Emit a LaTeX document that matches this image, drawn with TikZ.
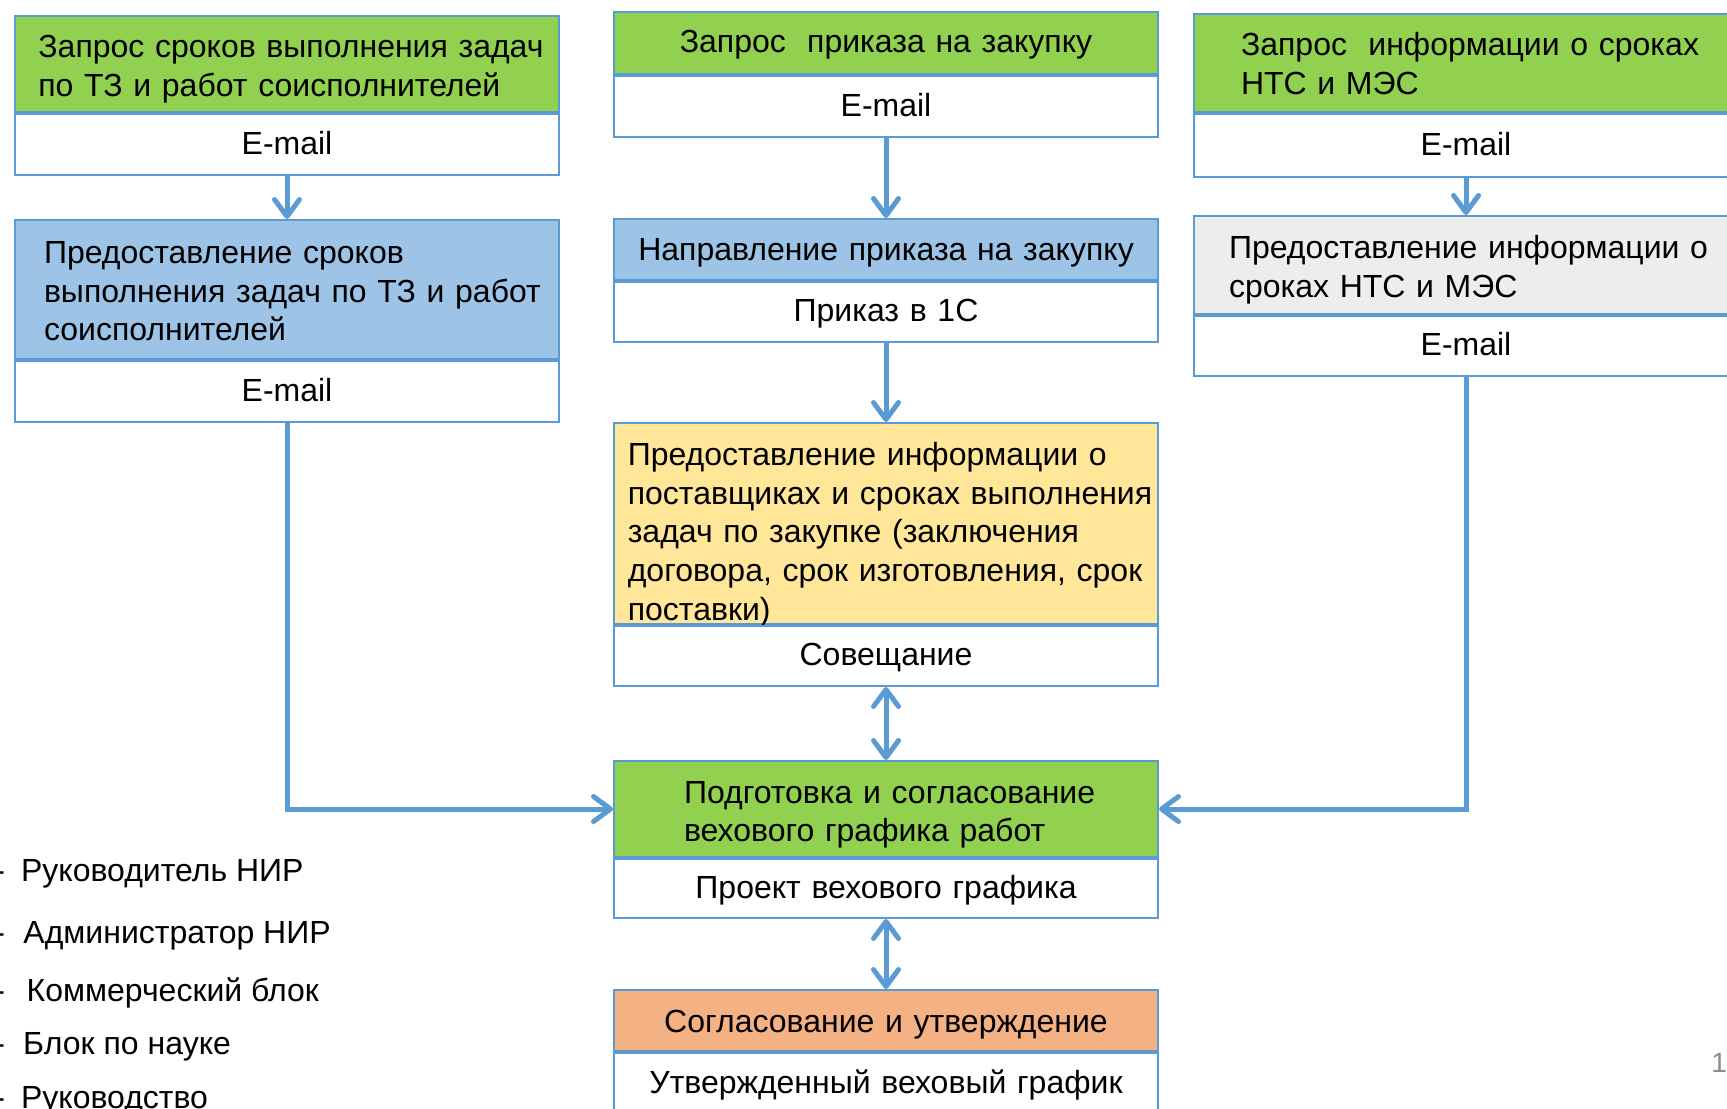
\documentclass[tikz,border=0pt]{standalone}
\usepackage{fontspec}
\setmainfont{Liberation Sans}
\usepackage{xcolor}
\usepackage{tikz}
\usetikzlibrary{arrows.meta, positioning}

\definecolor{lineblue}{HTML}{5B9BD5}
\definecolor{hdgreen}{HTML}{92D050}
\definecolor{hdblue}{HTML}{9DC3E6}
\definecolor{hdyellow}{HTML}{FFE699}
\definecolor{hdorange}{HTML}{F4B183}
\definecolor{hdgray}{HTML}{EDEDED}
\definecolor{pagegray}{HTML}{8C8C8C}

\begin{document}
\begin{tikzpicture}[x=0.5pt, y=-0.5pt, >={Straight Barb[length=8.5pt,width=12.5pt,round]},
                    node distance=0pt, font=\fontsize{16pt}{19.3pt}\selectfont]
\tikzstyle{hdbox}=[rectangle, draw=lineblue, line width=1pt, anchor=north west,
                   inner sep=0pt, text width=272pt, text height=11.5pt, text depth=0pt, align=center]
\tikzstyle{rowbox}=[hdbox, fill=white, anchor=north, text depth=1.6pt]
\tikzstyle{flow}=[draw=lineblue, line width=2.5pt]
\tikzstyle{legend}=[anchor=west, inner sep=0pt]
\tikzset{lpad/.style={align=left, execute at begin node={\leftskip=#1\relax}}}
  \useasboundingbox (0,0) rectangle (1727,1108);
  % left column
  \node[hdbox, fill=hdgreen, lpad=11.7pt, minimum height=48pt, text depth=18.1pt] (qtask) at (14,15)
       {Запрос сроков выполнения задач\\по ТЗ и работ соисполнителей};
  \node[rowbox, minimum height=30.5pt, below=of qtask] (qtaskmail) {E-mail};
  \node[hdbox, fill=hdblue, lpad=14.5pt, minimum height=69.5pt, text depth=37.3pt] (atask) at (14,219)
       {Предоставление сроков\\выполнения задач по ТЗ и работ\\соисполнителей};
  \node[rowbox, minimum height=30.5pt, below=of atask] (ataskmail) {E-mail};
  % middle column
  \node[hdbox, fill=hdgreen, minimum height=31pt, text depth=2pt] (qorder) at (613,11) {Запрос\ \ приказа на закупку};
  \node[rowbox, minimum height=30.5pt, below=of qorder] (qordermail) {E-mail};
  \node[hdbox, fill=hdblue, minimum height=30.5pt, text depth=1pt] (sorder) at (613,218) {Направление приказа на закупку};
  \node[rowbox, minimum height=30pt, below=of sorder] (sorder1c) {Приказ в 1С};
  \node[hdbox, fill=hdyellow, lpad=6.9pt, minimum height=100.5pt, text depth=69.3pt] (supply) at (613,422)
       {Предоставление информации о\\поставщиках и сроках выполнения\\задач по закупке (заключения\\договора, срок изготовления, срок\\поставки)};
  \node[rowbox, minimum height=30pt, below=of supply] (meeting) {Совещание};
  \node[hdbox, fill=hdgreen, lpad=35pt, minimum height=48pt, text depth=17.2pt] (plan) at (613,760)
       {Подготовка и согласование\\вехового графика работ};
  \node[rowbox, minimum height=29.5pt, below=of plan] (draft) {Проект вехового графика};
  \node[hdbox, fill=hdorange, minimum height=30.5pt] (approve) at (613,989) {Согласование и утверждение};
  \node[rowbox, minimum height=31pt, below=of approve] (final) {Утвержденный веховый график};
  % right column
  \node[hdbox, fill=hdgreen, lpad=23.5pt, minimum height=49pt, text depth=19pt] (qinfo) at (1193,13)
       {Запрос\ \ информации о сроках\\НТС и МЭС};
  \node[rowbox, minimum height=31.5pt, below=of qinfo] (qinfomail) {E-mail};
  \node[hdbox, fill=hdgray, lpad=17.5pt, minimum height=49pt, text depth=18pt] (ainfo) at (1193,215)
       {Предоставление информации о\\сроках НТС и МЭС};
  \node[rowbox, minimum height=30pt, below=of ainfo] (ainfomail) {E-mail};
  % legend
  \node[legend] (lhead)  at (-6,873.5)  {-\hspace{8pt}Руководитель НИР};
  \node[legend] (ladmin) at (-6,935.5)  {-\hspace{9.2pt}Администратор НИР};
  \node[legend] (lcomm)  at (-6,992.5)  {-\hspace{10.8pt}Коммерческий блок};
  \node[legend] (lsci)   at (-6,1046.5) {-\hspace{9.1pt}Блок по науке};
  \node[legend] (lboard) at (-6,1100.5) {-\hspace{8pt}Руководство};
  \node[legend, text=pagegray, font=\fontsize{14pt}{16pt}\selectfont] (pnum) at (1711,1063) {1};
  % connectors
  \path[flow, ->] (qtaskmail)  edge (atask)
                  (qordermail) edge (sorder)
                  (sorder1c)   edge (supply)
                  (qinfomail)  edge (ainfo);
  \path[flow, <->] (meeting) edge (plan)
                   (draft)   edge (approve);
  \draw[flow, ->] (ataskmail) |- (plan);
  \draw[flow, ->] (ainfomail) |- (plan);
\end{tikzpicture}
\end{document}
